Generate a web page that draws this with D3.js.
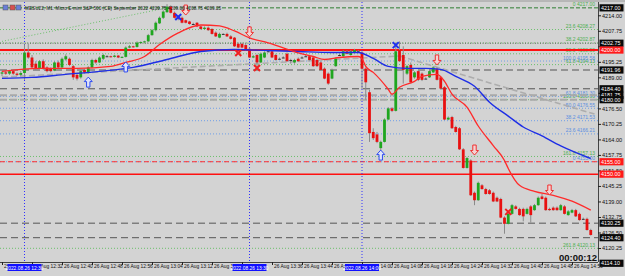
<!DOCTYPE html>
<html lang="en">
<head>
<meta charset="UTF-8">
<style>
  body { margin: 0; overflow: hidden; background: #d3d3d3; }
  svg { display: block; font-family: "Liberation Sans", Arial, sans-serif; }
</style>
<script src="https://d3js.org/d3.v7.min.js"></script>
</head>
<body>
<svg id="chart"></svg>
<script>
// ---- data ----
const title = "MESU22, M1: Micro E-mini S&P 500 (CE) September 2022  4209.75 4209.00 4208.75 4209.25";
const firstBar = new Date(2022, 7, 26, 12, 24);

// one candle per minute: [open, high, low, close]
const bars = [
  [4190.5,4191.5,4189.5,4191],[4191,4191.5,4190,4190.5],[4190.5,4192,4190,4191.5],[4191.5,4192,4190,4190.5],
  [4190.5,4191,4189.5,4190],[4190,4191.5,4189.5,4190.75],[4190.75,4202.25,4188,4199],[4199,4202.5,4196.5,4197],
  [4197,4198,4192.5,4193],[4194.5,4195.5,4192,4192.75],[4192.75,4196,4192.5,4195.5],[4195.5,4196.25,4192,4192.5],
  [4193,4193.5,4191,4191.5],[4192.5,4193,4191,4191.5],[4191.75,4195.5,4191.5,4195],[4195,4195.75,4192.5,4193],
  [4193,4197,4192.75,4196.5],[4196.25,4198.25,4195.75,4197.5],[4196.5,4197,4193.5,4194],[4193.5,4194,4188,4189],
  [4190,4190.5,4187.75,4188.5],[4189,4192,4188.5,4191.5],[4192,4192.5,4190.5,4191],[4191,4193.5,4190.5,4193],
  [4193,4196.5,4192.75,4196],[4196,4196.5,4194.5,4195],[4195,4197.5,4194.75,4197],[4196.5,4198.5,4196,4198],
  [4197.5,4198,4197.25,4197.5],[4197.5,4197.75,4197,4197.25],[4197.25,4198,4197,4197.75],[4197.75,4198,4196.75,4197],
  [4197,4197.5,4196.75,4197.25],[4197.25,4201.5,4197,4201],[4201,4202,4200.75,4201.5],[4201.5,4201.75,4201,4201.25],
  [4201.25,4203.5,4201,4203],[4203,4203.5,4202.75,4203.25],[4203.25,4203.75,4203,4203.5],[4203.5,4206.5,4203.25,4206],
  [4206,4208.5,4205.75,4208],[4208,4211.5,4207.5,4211],[4210.75,4213.5,4210.5,4213],[4213,4216,4212.5,4215.5],
  [4215.25,4218.5,4215,4217.5],[4217.5,4218,4214.75,4215],[4215,4215.5,4212.75,4213],[4213.5,4214,4212,4212.5],
  [4213,4213.5,4210.75,4211],[4212,4212.25,4210.75,4211],[4211.5,4211.75,4210.25,4210.5],[4210.5,4211,4210.25,4210.5],
  [4211,4211.25,4209.25,4209.5],[4209.5,4209.75,4208.25,4208.5],[4208.5,4209.5,4208.25,4209],[4209,4209.5,4207.75,4208],
  [4208.5,4208.75,4206.25,4206.5],[4207,4207.5,4205.25,4205.5],[4205,4207,4204.75,4206.5],[4206.5,4206.75,4206.25,4206.5],
  [4206.5,4207,4205.25,4205.5],[4205.5,4206,4204.25,4204.5],[4205,4205.25,4201.25,4201.5],[4202.5,4203,4200.75,4201],
  [4202.5,4203,4200.75,4201],[4202,4202.5,4199.75,4200],[4200.5,4201,4196.75,4197],[4197,4198,4196.75,4197.5],
  [4198,4198.5,4193,4195],[4195,4199,4194.75,4198.5],[4197,4199.5,4196.75,4199],[4199.5,4200,4199.25,4199.5],
  [4199.5,4200,4196.75,4197],[4198,4198.5,4195.75,4196],[4196.5,4197,4196.25,4196.5],[4197,4197.5,4196.75,4197],
  [4198.5,4199,4195.25,4195.5],[4196,4196.5,4194.5,4196],[4195,4196.5,4194.5,4196],[4196.5,4197,4195.25,4195.5],
  [4197,4197.5,4196.75,4197],[4197.5,4198,4197.25,4197.5],[4197.5,4198,4195.75,4196],[4197,4197.5,4193.25,4193.5],
  [4196,4196.5,4193.25,4193.5],[4195,4195.5,4191.75,4192],[4192.5,4193,4188.25,4188.5],[4190.5,4191,4186,4186.5],
  [4188.5,4192.5,4188.25,4192],[4193.5,4197,4193.25,4196.5],[4198,4198.5,4197.75,4198],[4197.5,4200,4197.25,4199.5],
  [4199.5,4200,4198.25,4198.5],[4198,4200,4197.75,4199.5],[4199,4200.5,4198.75,4200],[4199.5,4200,4199.25,4199.5],
  [4199,4199.5,4184.25,4192.5],[4192.5,4193,4180,4187],[4183,4184,4163,4166.5],[4167,4168.5,4163.75,4164.5],
  [4166,4167,4162.5,4163],[4160.5,4163.5,4156,4163],[4163,4172.5,4162.75,4172],[4172,4177,4171.75,4176.5],
  [4176.5,4177,4175,4175.5],[4175.5,4202,4175.25,4199.5],[4200,4203.5,4195.25,4195.5],[4198,4201.5,4186.5,4192],
  [4190.5,4194,4190,4193.5],[4194,4195,4186.5,4187],[4189,4191.5,4188.5,4191],[4191.5,4192,4187.5,4188],
  [4190.5,4191,4187.5,4188],[4188.5,4189,4188.25,4188.5],[4189,4192,4188.75,4191.5],[4191,4193.5,4190.75,4193],
  [4192.5,4193,4187.75,4188],[4189,4189.5,4184.25,4184.5],[4185,4185.5,4171.75,4172],[4172,4173.25,4171.75,4172.75],
  [4173,4173.5,4168.25,4168.5],[4169,4169.5,4166.75,4167],[4168.5,4169,4159.75,4160],[4160,4160.5,4152.25,4152.5],
  [4152.5,4157,4152.25,4156.5],[4155.5,4156,4141.25,4141.5],[4142.5,4143,4137.5,4139.5],[4139.5,4147,4139.25,4146.5],
  [4145.5,4146,4143.75,4144],[4144,4144.5,4141.75,4142],[4143.5,4144,4141.75,4142],[4142.5,4143,4138.75,4139],
  [4140.5,4141,4138.75,4139],[4140,4140.5,4132.25,4132.5],[4132.5,4133,4126,4130],[4130,4134.5,4129.75,4134],
  [4134,4138,4133.75,4137.5],[4137,4137.5,4135.75,4136],[4136,4136.5,4133.25,4133.5],[4136,4136.5,4131,4133],
  [4134,4136.5,4133.75,4136],[4137,4137.5,4130.5,4133.5],[4135.5,4138,4135.25,4137.5],[4137.5,4141,4137.25,4140.5],
  [4141,4142,4139.75,4140],[4140.5,4141,4135.25,4135.5],[4136,4136.5,4135.25,4135.5],[4136.5,4137,4135.25,4135.5],
  [4136.5,4137,4135.25,4135.5],[4135.5,4138,4135.25,4137.5],[4137,4137.5,4133.75,4134],[4133.5,4135.5,4133.25,4135],
  [4134.5,4136,4134.25,4135.5],[4135.5,4136,4132.75,4133],[4134,4134.5,4131.25,4131.5],[4132,4132.5,4131.75,4132],
  [4132,4132.5,4127.25,4127.5],[4127.5,4128,4125.25,4125.5]
];

// moving averages: [bar index, price]
const fastMA = [[0,4191.4],[10,4192.6],[20,4192.6],[29,4193.4],[33,4195],[38,4197.4],[42,4202.2],[47,4206.9],
  [53,4210.1],[58,4209.7],[62,4207.7],[66,4204.9],[71,4202.9],[75,4200.9],[79,4198.9],[83,4197.4],[86,4196.2],
  [90,4197],[95,4197.4],[96,4196.5],[97,4193.4],[99,4191],[103,4184.2],[104,4182.2],[106,4185],[110,4187.4],
  [112,4189.4],[116,4190.2],[118,4187.4],[120,4182.2],[124,4177],[127,4169.4],[131,4161.5],[134,4155.5],
  [135,4152.3],[138,4145.5],[142,4143.1],[147,4141.5],[152,4139.1],[157,4135.5]];
const slowMA = [[0,4188.6],[8,4189],[17,4190.2],[26,4191.4],[35,4193],[44,4196.2],[53,4199.4],[62,4200.2],
  [71,4199.8],[79,4199.4],[88,4199],[95,4199],[99,4196.6],[103,4193.4],[108,4192.6],[113,4192.6],[117,4192.2],
  [121,4189.4],[126,4185.4],[130,4179],[135,4173.4],[139,4169],[144,4165.4],[149,4161.4],[157,4156.3]];

const priceTicks = [4120.25,4126.50,4132.75,4139.00,4145.25,4151.50,4157.75,4164.00,4170.25,4176.50,
  4182.75,4189.00,4195.25,4201.50,4207.75,4214.00];
const timeTicks = ["12:24","12:32","12:40","12:48","12:56","13:04","13:12","13:20","13:28","13:36","13:44",
  "13:52","14:00","14:08","14:16","14:24","14:32","14:40","14:48","14:56"];
const markedTimes = ["12:30","13:30","14:00"];

const fibUpRatios = ["0","23.6","38.2","50.0","61.8","100.0","161.8","261.8"];
const fibUpPrices = [4217.00,4208.27,4202.87,4198.50,4194.13,4180.00,4157.13,4120.13];
const fibDownRatios = ["0","23.6","38.2","50.0","61.8","100.0"];
const fibDownPrices = [4155.00,4166.21,4171.53,4176.55,4181.30,4195.58];

const darkDashPrices = [4191.96,4184.40,4130.25,4124.40,4114.10];
const lightDashPrices = [4181.75,4180.00];
const dotPrices = [4202.75];
const redSolidPrices = [4200.00,4150.00];
const redDashPrices = [4155.00];
const blackTags = [4217.00,4202.75,4191.96,4184.40,4181.75,4180.00,4130.25,4124.40,4114.10];
const redTags = [4200.00,4155.00,4150.00];

const trendLines = [[[0,4189.1],[106,4197.6]],[[106,4197.6],[158,4174.2]]];
const fibTrend = [[0,4203.5],[44,4217]];

const buyArrows = [[23,4189.1],[33,4195.2],[101,4159.7]];
const sellArrows = [[49,4214.1],[66,4205.3],[116,4194],[126,4157.7],[146,4141.6]];
const redCrosses = [[63,4198.8],[68,4192.8],[135,4134.8]];
const blueCrosses = [[47.5,4213.3],[105,4202]];

const timer = "00:00:12";

// ---- layout ----
const W = 625, H = 276;
const plotR = 598, plotT = 2, plotB = 262;
const svg = d3.select("#chart").attr("width", W).attr("height", H);

const barTime = i => d3.timeMinute.offset(firstBar, i);
const hm = s => { const [h, m] = s.split(":"); return new Date(2022, 7, 26, +h, +m); };
const x = d3.scaleTime().domain([firstBar, barTime(160)]).range([2, 602]);
const xi = i => x(barTime(i));
const y = d3.scaleLinear().domain([4120.25, 4214]).range([248, 15.3]);

svg.append("rect").attr("width", W).attr("height", H).attr("fill", "#d3d3d3");
svg.append("defs").append("clipPath").attr("id", "plot")
  .append("rect").attr("x", 0).attr("y", plotT).attr("width", plotR).attr("height", plotB - plotT);

const g = svg.append("g").attr("clip-path", "url(#plot)");

function hline(p, color, width, dash) {
  g.append("line").attr("x1", 0).attr("x2", plotR).attr("y1", y(p)).attr("y2", y(p))
    .attr("stroke", color).attr("stroke-width", width).attr("stroke-dasharray", dash);
}

// fibo levels
fibUpPrices.forEach((p, i) => {
  hline(p, i === 0 ? "#2e7d32" : "#6cc06c", 1, i === 0 ? "4,2" : "1,2");
  g.append("text").attr("x", plotR - 3).attr("y", y(p) - 1.5).attr("text-anchor", "end")
    .attr("font-size", 5).attr("fill", "#4caf50").text(fibUpRatios[i] + "   " + p.toFixed(2));
});
fibDownPrices.forEach((p, i) => {
  hline(p, "#6f9fe8", 1, "1,2");
  g.append("text").attr("x", plotR - 3).attr("y", y(p) - 1.5).attr("text-anchor", "end")
    .attr("font-size", 5).attr("fill", "#5b8fe0").text(fibDownRatios[i] + "   " + p.toFixed(2));
});
g.append("path").datum(fibTrend).attr("fill", "none").attr("stroke", "#6cc06c").attr("stroke-dasharray", "1,2")
  .attr("d", d3.line().x(d => xi(d[0])).y(d => y(d[1])));

dotPrices.forEach(p => hline(p, "#666", 1, "1,1.5"));
lightDashPrices.forEach(p => hline(p, "#a9a9a9", 2, "7,3"));
darkDashPrices.forEach(p => hline(p, "#555", 1, "7,4"));
trendLines.forEach(t => g.append("path").datum(t).attr("fill", "none").attr("stroke", "#adadad")
  .attr("stroke-width", 1.6).attr("stroke-dasharray", "6,3")
  .attr("d", d3.line().x(d => xi(d[0])).y(d => y(d[1]))));
redDashPrices.forEach(p => hline(p, "#ff3030", 1, "5,3"));
redSolidPrices.forEach((p, i) => hline(p, "#ff1010", i === 0 ? 2 : 1.5, null));

// vertical time markers
markedTimes.forEach(t => g.append("line").attr("x1", x(hm(t))).attr("x2", x(hm(t)))
  .attr("y1", plotT).attr("y2", plotB).attr("stroke", "#3030ff").attr("stroke-dasharray", "1,2"));

// candles
const c = g.selectAll("g.candle").data(bars).join("g").attr("class", "candle");
c.append("line").attr("x1", (d, i) => xi(i)).attr("x2", (d, i) => xi(i))
  .attr("y1", d => y(d[1])).attr("y2", d => y(d[2])).attr("stroke", "#8a8a8a");
c.append("rect").attr("x", (d, i) => xi(i) - 1.4).attr("width", 2.8)
  .attr("y", d => y(Math.max(d[0], d[3])))
  .attr("height", d => Math.max(1, Math.abs(y(d[0]) - y(d[3]))))
  .attr("fill", d => d[3] > d[0] ? "#1fa61f" : d[3] < d[0] ? "#e81010" : "#333");

// moving averages
const maLine = d3.line().x(d => xi(d[0])).y(d => y(d[1])).curve(d3.curveMonotoneX);
g.append("path").datum(slowMA).attr("fill", "none").attr("stroke", "#1e2ee6").attr("stroke-width", 1.4).attr("d", maLine);
g.append("path").datum(fastMA).attr("fill", "none").attr("stroke", "#ff2a2a").attr("stroke-width", 1.3).attr("d", maLine);

// trade arrows
const upArrow = "M0,0 L4,4.5 L1.7,4.5 L1.7,10 L-1.7,10 L-1.7,4.5 L-4,4.5 Z";
const downArrow = "M0,0 L4,-4.5 L1.7,-4.5 L1.7,-10 L-1.7,-10 L-1.7,-4.5 L-4,-4.5 Z";
buyArrows.forEach(a => g.append("path").attr("d", upArrow)
  .attr("transform", `translate(${xi(a[0])},${y(a[1])})`)
  .attr("fill", "#dfe3fb").attr("stroke", "#2f4cf0").attr("stroke-width", 1));
sellArrows.forEach(a => g.append("path").attr("d", downArrow)
  .attr("transform", `translate(${xi(a[0])},${y(a[1])})`)
  .attr("fill", "#f4d4d4").attr("stroke", "#f03030").attr("stroke-width", 1));
function cross(a, color) {
  g.append("path").attr("d", "M-3,-3 L3,3 M3,-3 L-3,3")
    .attr("transform", `translate(${xi(a[0])},${y(a[1])})`)
    .attr("stroke", color).attr("stroke-width", 2).attr("fill", "none");
}
redCrosses.forEach(a => cross(a, "#f02020"));
blueCrosses.forEach(a => cross(a, "#2030f0"));

// frame
svg.append("line").attr("x1", plotR + 0.5).attr("x2", plotR + 0.5).attr("y1", plotT).attr("y2", plotB)
  .attr("stroke", "#444");
svg.append("line").attr("x1", 0).attr("x2", plotR).attr("y1", plotB + 0.5).attr("y2", plotB + 0.5)
  .attr("stroke", "#444");
svg.append("line").attr("x1", 0).attr("x2", W).attr("y1", 1).attr("y2", 1).attr("stroke", "#9a9a9a");

// price axis
const yAxis = svg.append("g").attr("transform", `translate(${plotR},0)`)
  .call(d3.axisRight(y).tickValues(priceTicks).tickFormat(d3.format(".2f")).tickSize(3));
yAxis.select(".domain").remove();
yAxis.selectAll("line").attr("stroke", "#222");
yAxis.selectAll("text").attr("font-size", 5.6).attr("fill", "#111").attr("x", 4)
  .attr("font-family", "Liberation Sans, Arial, sans-serif");

function tag(p, bg) {
  svg.append("rect").attr("x", plotR + 1.5).attr("y", y(p) - 3.6).attr("width", 24).attr("height", 7.2).attr("fill", bg);
  svg.append("text").attr("x", plotR + 3).attr("y", y(p) + 1.9).attr("font-size", 5.4).attr("fill", "#fff")
    .text(p.toFixed(2));
}
blackTags.forEach(p => tag(p, "#0a0a0a"));
redTags.forEach(p => tag(p, "#ff1a1a"));

// time axis; a label that lies wholly under a marker box is not drawn
const hidden = t => markedTimes.some(m => {
  const cx = x(hm(m)), lx = x(t);
  return lx >= cx - 17 && lx + 25 <= cx + 18;
});
const xAxis = svg.append("g").attr("transform", `translate(0,${plotB})`)
  .call(d3.axisBottom(x).tickValues(timeTicks.map(hm))
    .tickFormat(t => hidden(t) ? "" : d3.timeFormat("%d %b %H:%M")(t)).tickSize(3));
xAxis.select(".domain").remove();
xAxis.selectAll("line").attr("stroke", "#222");
xAxis.selectAll("text").attr("font-size", 4.9).attr("fill", "#111").attr("text-anchor", "start")
  .attr("x", 1.5).attr("y", 3).attr("dy", "0.71em").attr("font-family", "Liberation Sans, Arial, sans-serif");

markedTimes.forEach(t => {
  const cx = x(hm(t));
  svg.append("rect").attr("x", cx - 17).attr("y", plotB + 2).attr("width", 34).attr("height", 7).attr("fill", "#1010ff");
  svg.append("text").attr("x", cx).attr("y", plotB + 7.5).attr("text-anchor", "middle").attr("font-size", 4.9)
    .attr("fill", "#fff").text(d3.timeFormat("%Y.%m.%d %H:%M")(hm(t)));
});

// title + icons
[["#6a7fd8", 3], ["#d85050", 10], ["#6a7fd8", 16]].forEach(([col, ix]) =>
  svg.append("rect").attr("x", ix).attr("y", 5).attr("width", 5).attr("height", 5).attr("fill", col)
    .attr("stroke", "#555").attr("stroke-width", 0.5));
svg.append("text").attr("x", 25).attr("y", 10).attr("font-size", 4.7).attr("fill", "#222").text(title);

svg.append("text").attr("x", plotR - 1).attr("y", 261).attr("text-anchor", "end").attr("font-size", 9.5)
  .attr("font-weight", "bold").attr("fill", "#111").text(timer);
</script>
</body>
</html>
